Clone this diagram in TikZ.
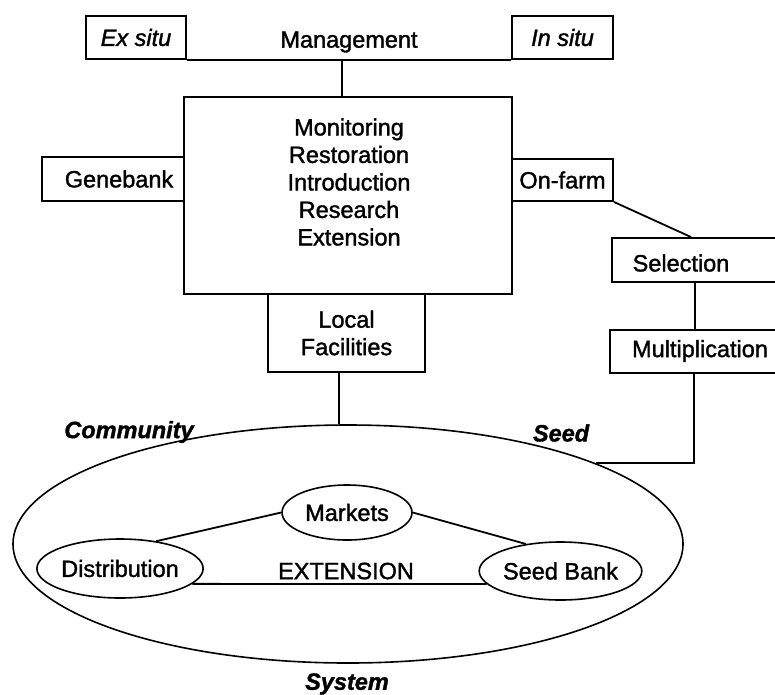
\documentclass[tikz,border=0pt]{standalone}
\usepackage{fontspec}
\setmainfont{Liberation Sans}[FakeBold=1.5]
\usetikzlibrary{shapes.geometric}

\tikzset{
  txt/.style={inner sep=0pt, font=\fontsize{23.5}{27.5}\selectfont},
  lbl/.style={txt, font=\fontsize{23.5}{27.5}\selectfont\bfseries\itshape},
  boxnode/.style={draw, line width=1.9pt, inner sep=0pt, align=center,
    font=\fontsize{23.5}{27.5}\selectfont},
  oval/.style={draw, ellipse, line width=1.6pt, inner sep=0pt,
    font=\fontsize{23.5}{27.5}\selectfont},
  link/.style={line width=1.8pt},
}

\begin{document}
\begin{tikzpicture}[x=1pt, y=-1pt]
\useasboundingbox (0,0) rectangle (775,694);

% top row: management strategies
\node[boxnode, minimum width=100, minimum height=43, font=\fontsize{23.5}{27.5}\selectfont\itshape]
  (ex) at (136,37.5) {Ex situ};
\node[boxnode, minimum width=101, minimum height=43, font=\fontsize{23.5}{27.5}\selectfont\itshape]
  (insitu) at (562.5,37.5) {In situ};
\node[txt] (mgmt) at (349,42) {Management};
\draw[link] (ex.south east) -- (insitu.south west);
\coordinate (mj) at (342,59);

% central activities box
\node[boxnode, minimum width=328, minimum height=197] (big) at (348,195.5) {};
\node[txt, align=center] (tasks) at (349,182)
  {Monitoring\\Restoration\\Introduction\\Research\\Extension};
\draw[link] (mj) -- (mj |- big.north);

% side boxes attached to the central box
\node[boxnode, minimum width=142, minimum height=44] (gene) at (113,179) {\hspace*{12pt}Genebank};
\node[boxnode, minimum width=101, minimum height=42] (onfarm) at (562.5,180) {On-farm};
\node[boxnode, minimum width=157, minimum height=78] (local) at (346.5,333) {Local\\Facilities};

% on-farm chain
\node[boxnode, minimum width=166, minimum height=44] (sel) at (695,260) {};
\node[txt] (seltext) at (681,263) {Selection};
\node[boxnode, minimum width=168, minimum height=43] (mult) at (694,351.5) {};
\node[txt] (multtext) at (700,351) {Multiplication};
\draw[link] (onfarm.south east) -- ([xshift=80pt]sel.north west);
\draw[link] (sel.south) -- (sel.south |- mult.north);

% community seed system
\node[oval, minimum width=670, minimum height=238] (sys) at (348,544) {};
\node[oval, minimum width=130, minimum height=55] (mk) at (347,512.5) {Markets};
\node[oval, minimum width=159, minimum height=59] (dist) at (120,568.5) {Distribution};
\node[oval, minimum width=157, minimum height=58] (sb) at (560.5,571) {Seed Bank};
\node[txt] (ext) at (346,571) {EXTENSION};

\node[lbl] (comm) at (129,432) {Community};
\node[lbl] (seed) at (561,433) {Seed};
\node[lbl] (system) at (347,684) {System};

% connectors into the seed system
\coordinate (lf) at ([xshift=-7.5pt]local.south);
\draw[link] (lf) -- (lf |- sys.north);
\draw[link] (mult.south) |- (sys.18);
\draw[link] (mk.west) -- (dist.37);
\draw[link] (mk.east) -- (sb.142);
\draw[link] (dist.-12) -- (sb.190);
\end{tikzpicture}
\end{document}
